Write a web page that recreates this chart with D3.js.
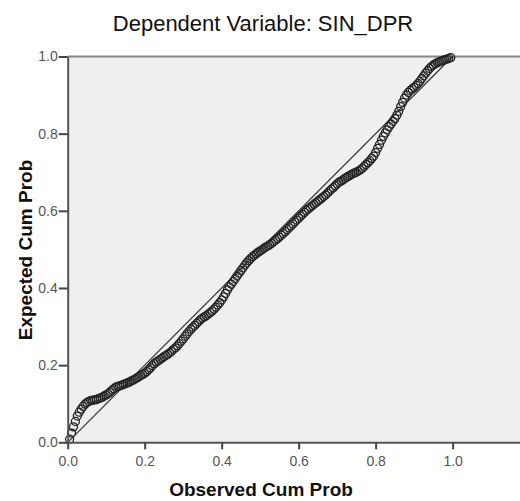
<!DOCTYPE html>
<meta charset="utf-8">
<title>P-P plot</title>
<style>
body {
    margin: 0;
    background: #fff;
  }
svg {
    display: block;
    font-family: "Liberation Sans", Arial, sans-serif;
}
.axis path {
    stroke: #555;
    stroke-width: 2px;
}
.axis line {
    stroke: #444;
    stroke-width: 2px;
}
.axis text {
    fill: #555;
    font-size: 14px;
}
.pt {
    fill: none;
    stroke: #222;
    stroke-width: 1.3px;
}
</style>
<body>
<script src="https://d3js.org/d3.v7.min.js"></script>
<script>

var width = 520,
    height = 501;

// chart values
var title = "Dependent Variable: SIN_DPR";
var xLabel = "Observed Cum Prob",
    yLabel = "Expected Cum Prob";
var tickValues = [0, 0.2, 0.4, 0.6, 0.8, 1.0];

var observed = [
  .005, .010, .015, .020, .025, .030, .035, .040, .045, .050,
  .055, .060, .065, .070, .075, .080, .085, .090, .095, .100,
  .105, .110, .115, .120, .125, .130, .135, .140, .145, .150,
  .155, .160, .165, .170, .175, .180, .185, .190, .195, .200,
  .205, .210, .215, .220, .225, .230, .235, .240, .245, .250,
  .255, .260, .265, .270, .275, .280, .285, .290, .295, .300,
  .305, .310, .315, .320, .325, .330, .335, .340, .345, .350,
  .355, .360, .365, .370, .375, .380, .385, .390, .395, .400,
  .405, .410, .415, .420, .425, .430, .435, .440, .445, .450,
  .455, .460, .465, .470, .475, .480, .485, .490, .495, .500,
  .505, .510, .515, .520, .525, .530, .535, .540, .545, .550,
  .555, .560, .565, .570, .575, .580, .585, .590, .595, .600,
  .605, .610, .615, .620, .625, .630, .635, .640, .645, .650,
  .655, .660, .665, .670, .675, .680, .685, .690, .695, .700,
  .705, .710, .715, .720, .725, .730, .735, .740, .745, .750,
  .755, .760, .765, .770, .775, .780, .785, .790, .795, .800,
  .805, .810, .815, .820, .825, .830, .835, .840, .845, .850,
  .855, .860, .865, .870, .875, .880, .885, .890, .895, .900,
  .905, .910, .915, .920, .925, .930, .935, .940, .945, .950,
  .955, .960, .965, .970, .975, .980, .985, .990, .995
];

var expected = [
  .008, .024, .040, .054, .068, .078, .086, .093, .099, .103,
  .106, .108, .109, .110, .111, .113, .115, .117, .120, .123,
  .126, .130, .135, .139, .143, .145, .146, .148, .150, .152,
  .154, .156, .159, .161, .164, .167, .170, .173, .176, .179,
  .183, .188, .193, .199, .204, .208, .211, .215, .218, .222,
  .225, .228, .232, .236, .241, .245, .250, .256, .262, .268,
  .275, .281, .287, .293, .298, .303, .308, .313, .318, .322,
  .325, .328, .332, .336, .340, .345, .350, .356, .362, .369,
  .377, .386, .395, .403, .410, .417, .424, .431, .438, .445,
  .452, .459, .465, .471, .476, .481, .485, .489, .493, .496,
  .499, .503, .506, .509, .512, .516, .520, .524, .528, .532,
  .537, .541, .546, .551, .556, .561, .566, .571, .576, .581,
  .586, .591, .596, .601, .605, .609, .613, .617, .621, .625,
  .629, .633, .637, .641, .646, .651, .656, .660, .665, .670,
  .674, .677, .680, .684, .687, .690, .693, .696, .698, .700,
  .703, .706, .710, .715, .720, .725, .730, .736, .742, .751,
  .762, .772, .783, .793, .802, .810, .818, .825, .832, .839,
  .848, .858, .870, .881, .892, .900, .907, .912, .916, .920,
  .925, .930, .936, .943, .950, .957, .963, .969, .974, .978,
  .981, .984, .986, .988, .990, .992, .993, .995, .997
];

var margin = {top: 56.5, left: 67.7, bottom: 58.7};

var x = d3.scaleLinear()
    .domain([0, 1.175])
    .range([margin.left, width]);

var y = d3.scaleLinear()
    .domain([0, 1])
    .range([height - margin.bottom, margin.top]);

var svg = d3.select("body").append("svg")
    .attr("width", width)
    .attr("height", height);

// plot background
svg.append("rect")
    .attr("x", x(0))
    .attr("y", y(1))
    .attr("width", width - x(0))
    .attr("height", y(0) - y(1))
    .attr("fill", "#efefef");

// top border
svg.append("line")
    .attr("x1", x(0)).attr("x2", width)
    .attr("y1", y(1)).attr("y2", y(1))
    .attr("stroke", "#888")
    .attr("stroke-width", 2);

// diagonal reference line
svg.append("line")
    .attr("x1", x(0)).attr("y1", y(0))
    .attr("x2", x(1)).attr("y2", y(1))
    .attr("stroke", "#333")
    .attr("stroke-width", 1.2);

// points
svg.append("g")
  .selectAll("circle")
    .data(observed)
  .enter().append("circle")
    .attr("class", "pt")
    .attr("cx", function(d) { return x(d); })
    .attr("cy", function(d, i) { return y(expected[i]); })
    .attr("r", 4);

// axes
svg.append("g")
    .attr("class", "axis")
    .attr("transform", "translate(0," + y(0) + ")")
    .call(d3.axisBottom(x)
      .tickValues(tickValues)
      .tickFormat(d3.format(".1f"))
      .tickSize(7)
      .tickPadding(6.5)
      .tickSizeOuter(0));

svg.append("g")
    .attr("class", "axis")
    .attr("transform", "translate(" + x(0) + ",0)")
    .call(d3.axisLeft(y)
      .tickValues(tickValues)
      .tickFormat(d3.format(".1f"))
      .tickSize(9)
      .tickPadding(1)
      .tickSizeOuter(0));

// title and axis labels
svg.append("text")
    .attr("x", 263)
    .attr("y", 31)
    .attr("text-anchor", "middle")
    .attr("fill", "#111")
    .style("font-size", "22px")
    .text(title);

svg.append("text")
    .attr("x", 261)
    .attr("y", 496)
    .attr("text-anchor", "middle")
    .attr("fill", "#111")
    .style("font-size", "19px")
    .style("font-weight", "bold")
    .text(xLabel);

svg.append("text")
    .attr("transform", "translate(31.5,250) rotate(-90)")
    .attr("text-anchor", "middle")
    .attr("fill", "#111")
    .style("font-size", "19px")
    .style("font-weight", "bold")
    .text(yLabel);

</script>
